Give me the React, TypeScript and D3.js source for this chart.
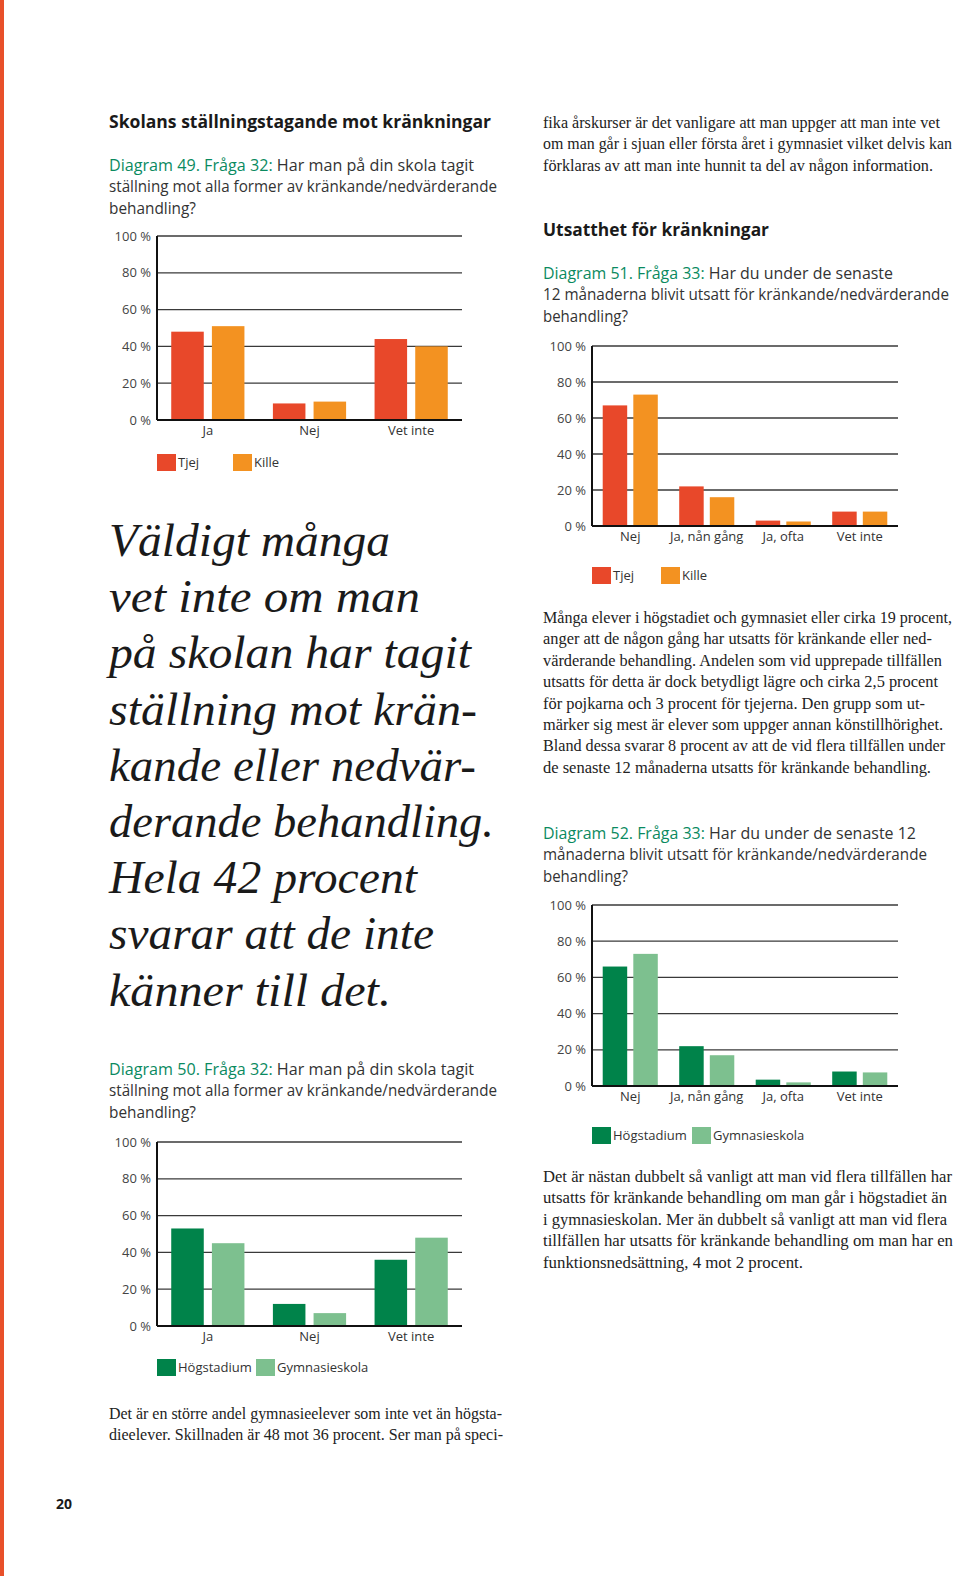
import React from 'react'
import * as d3 from 'd3'

// chart data
const yTicks = [0, 20, 40, 60, 80, 100]
const cats3 = ['Ja', 'Nej', 'Vet inte']
const cats4 = ['Nej', 'Ja, nån gång', 'Ja, ofta', 'Vet inte']
const genderSeries = ['Tjej', 'Kille']
const schoolSeries = ['Högstadium', 'Gymnasieskola']

const d49Tjej = [48, 9, 44]
const d49Kille = [51, 10, 40]
const d50Hog = [53, 12, 36]
const d50Gym = [45, 7, 48]
const d51Tjej = [67, 22, 3, 8]
const d51Kille = [73, 16, 2.5, 8]
const d52Hog = [66, 22, 3.5, 8]
const d52Gym = [73, 17, 2, 7.5]

const genderColors = ['#e8482a', '#f39221']
const schoolColors = ['#00834a', '#7dc08f']

const SANS = '"Open Sans", "Noto Sans", sans-serif'
const SERIF = '"Liberation Serif", "DejaVu Serif", serif'
const GREEN = '#0a8a5f'
const INK = '#333'

interface ChartProps {
  left: number
  right: number
  yZero: number
  yTop: number
  categories: string[]
  series: string[]
  values: number[][]
  colors: string[]
  legendY: number
  legendX: number[]
}

const BarChart = (p: ChartProps) => {
  const y = d3.scaleLinear().domain([0, 100]).range([p.yZero, p.yTop])
  const x0 = d3.scaleBand<string>().domain(p.categories).range([p.left, p.right])
  const x1 = d3.scaleBand<string>().domain(p.series).range([0, x0.bandwidth()])
    .paddingInner(0.2).paddingOuter(0.35)

  return (
    <g>
      {yTicks.filter(t => t > 0).map(t => (
        <line key={t} x1={p.left} x2={p.right} y1={y(t)} y2={y(t)} stroke="#3a3a3a" strokeWidth={1.3} />
      ))}
      {yTicks.map(t => (
        <text key={'l' + t} x={p.left - 6} y={y(t)} dy="0.35em" textAnchor="end"
          fontFamily={SANS} fontSize={13} fill="#444">{`${t} %`}</text>
      ))}
      {p.series.map((s, si) => p.categories.map((c, ci) => (
        <rect key={s + c} x={(x0(c) as number) + (x1(s) as number)} y={y(p.values[si][ci])}
          width={x1.bandwidth()} height={p.yZero - y(p.values[si][ci])} fill={p.colors[si]} />
      )))}
      <line x1={p.left} x2={p.left} y1={p.yTop} y2={p.yZero} stroke="#111" strokeWidth={2} />
      <line x1={p.left} x2={p.right} y1={p.yZero} y2={p.yZero} stroke="#111" strokeWidth={2} />
      {p.categories.map(c => (
        <text key={'c' + c} x={(x0(c) as number) + x0.bandwidth() / 2} y={p.yZero + 15}
          textAnchor="middle" fontFamily={SANS} fontSize={13} fill={INK}>{c}</text>
      ))}
      {p.series.map((s, si) => (
        <g key={'lg' + s}>
          <rect x={p.legendX[si]} y={p.legendY} width={19} height={17} fill={p.colors[si]} />
          <text x={p.legendX[si] + 21} y={p.legendY + 13} fontFamily={SANS} fontSize={13} fill={INK}>{s}</text>
        </g>
      ))}
    </g>
  )
}

interface LinesProps {
  x: number
  y: number
  lh: number
  lines: string[]
  widths: number[]
  size: number
  family: string
  fill?: string
  weight?: string | number
  italic?: boolean
}

const Lines = (p: LinesProps) => (
  <g>
    {p.lines.map((l, i) => (
      <text key={i} x={p.x} y={p.y + i * p.lh} fontFamily={p.family} fontSize={p.size}
        fill={p.fill || INK} fontWeight={p.weight || 'normal'} fontStyle={p.italic ? 'italic' : 'normal'}
        textLength={p.widths[i]} lengthAdjust="spacingAndGlyphs">{l}</text>
    ))}
  </g>
)

const Caption = (p: { x: number; y: number; label: string; lines: string[]; widths: number[] }) => (
  <g fontFamily={SANS} fontSize={15.5} fill={INK}>
    {p.lines.map((l, i) => (
      <text key={i} x={p.x} y={p.y + i * 21.3} textLength={p.widths[i]} lengthAdjust="spacingAndGlyphs">
        {i === 0 ? <tspan fill={GREEN}>{p.label}</tspan> : null}
        {i === 0 ? ' ' + l : l}
      </text>
    ))}
  </g>
)

export default function App() {
  const L = 109
  const R = 543
  return (
    <svg width={960} height={1576} style={{ position: 'absolute', left: 0, top: 0, background: '#fff' }}>
      <rect x={0} y={0} width={960} height={1576} fill="#fff" />
      <rect x={0} y={0} width={4} height={1576} fill="#e8502a" />

      {/* left column */}
      <Lines x={L} y={128} lh={0} lines={['Skolans ställningstagande mot kränkningar']} widths={[382]}
        size={17.5} family={SANS} weight={700} fill="#1a1a1a" />
      <Caption x={L} y={171} label="Diagram 49. Fråga 32:"
        lines={['Har man på din skola tagit', 'ställning mot alla former av kränkande/nedvärderande', 'behandling?']}
        widths={[365, 388, 87]} />
      <BarChart left={157} right={462} yZero={420} yTop={236} categories={cats3} series={genderSeries}
        values={[d49Tjej, d49Kille]} colors={genderColors} legendY={454} legendX={[157, 233]} />

      <Lines x={L} y={556} lh={56.2}
        lines={['Väldigt många', 'vet inte om man', 'på skolan har tagit', 'ställning mot krän-', 'kande eller nedvär-',
          'derande behandling.', 'Hela 42 procent', 'svarar att de inte', 'känner till det.']}
        widths={[281, 311, 362, 368, 367, 385, 308, 325, 282]}
        size={47} family={SERIF} italic fill="#1a1a1a" />

      <Caption x={L} y={1075} label="Diagram 50. Fråga 32:"
        lines={['Har man på din skola tagit', 'ställning mot alla former av kränkande/nedvärderande', 'behandling?']}
        widths={[365, 388, 87]} />
      <BarChart left={157} right={462} yZero={1326} yTop={1142} categories={cats3} series={schoolSeries}
        values={[d50Hog, d50Gym]} colors={schoolColors} legendY={1359} legendX={[157, 256]} />

      <Lines x={L} y={1419} lh={21.4}
        lines={['Det är en större andel gymnasieelever som inte vet än högsta-',
          'dieelever. Skillnaden är 48 mot 36 procent. Ser man på speci-']}
        widths={[393, 394]} size={16} family={SERIF} fill="#222" />

      <text x={56} y={1509} fontFamily={SANS} fontSize={14} fontWeight={700} fill="#1a1a1a">20</text>

      {/* right column */}
      <Lines x={R} y={128} lh={21.4}
        lines={['fika årskurser är det vanligare att man uppger att man inte vet',
          'om man går i sjuan eller första året i gymnasiet vilket delvis kan',
          'förklaras av att man inte hunnit ta del av någon information.']}
        widths={[397, 409, 390]} size={16} family={SERIF} fill="#222" />
      <Lines x={R} y={236} lh={0} lines={['Utsatthet för kränkningar']} widths={[226]}
        size={17.5} family={SANS} weight={700} fill="#1a1a1a" />
      <Caption x={R} y={279} label="Diagram 51. Fråga 33:"
        lines={['Har du under de senaste', '12 månaderna blivit utsatt för kränkande/nedvärderande', 'behandling?']}
        widths={[350, 406, 85]} />
      <BarChart left={592} right={898} yZero={526} yTop={346} categories={cats4} series={genderSeries}
        values={[d51Tjej, d51Kille]} colors={genderColors} legendY={567} legendX={[592, 661]} />

      <Lines x={R} y={623} lh={21.4}
        lines={['Många elever i högstadiet och gymnasiet eller cirka 19 procent,',
          'anger att de någon gång har utsatts för kränkande eller ned-',
          'värderande behandling. Andelen som vid upprepade tillfällen',
          'utsatts för detta är dock betydligt lägre och cirka 2,5 procent',
          'för pojkarna och 3 procent för tjejerna. Den grupp som ut-',
          'märker sig mest är elever som uppger annan könstillhörighet.',
          'Bland dessa svarar 8 procent av att de vid flera tillfällen under',
          'de senaste 12 månaderna utsatts för kränkande behandling.']}
        widths={[409, 389, 399, 395, 382, 400, 402, 388]} size={16} family={SERIF} fill="#222" />

      <Caption x={R} y={839} label="Diagram 52. Fråga 33:"
        lines={['Har du under de senaste 12', 'månaderna blivit utsatt för kränkande/nedvärderande', 'behandling?']}
        widths={[373, 384, 85]} />
      <BarChart left={592} right={898} yZero={1086} yTop={905} categories={cats4} series={schoolSeries}
        values={[d52Hog, d52Gym]} colors={schoolColors} legendY={1127} legendX={[592, 692]} />

      <Lines x={R} y={1182} lh={21.4}
        lines={['Det är nästan dubbelt så vanligt att man vid flera tillfällen har',
          'utsatts för kränkande behandling om man går i högstadiet än',
          'i gymnasieskolan. Mer än dubbelt så vanligt att man vid flera',
          'tillfällen har utsatts för kränkande behandling om man har en',
          'funktionsnedsättning, 4 mot 2 procent.']}
        widths={[409, 404, 404, 410, 260]} size={16} family={SERIF} fill="#222" />
    </svg>
  )
}
